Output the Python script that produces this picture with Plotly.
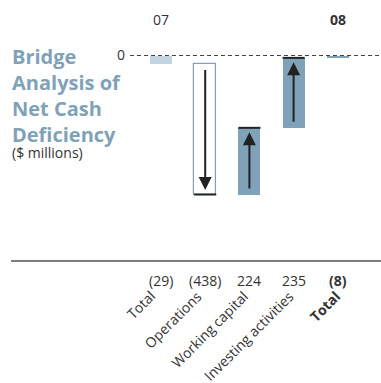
import plotly.graph_objects as go

# Bridge of net cash deficiency, $ millions
categories = ["Total", "Operations", "Working capital", "Investing activities", "Total"]
changes = [-29, -438, 224, 235]
value_labels = ["(29)", "(438)", "224", "235", "(8)"]
period_labels = ["07", "08"]

W, H = 381, 383
L, R, T, B = 130, 0, 30, 122

STEEL = "#7fa2b9"
LIGHT = "#c3d4e1"
INK = "#222222"
TEXT = "#333333"
FONT = "Open Sans"

# cumulative positions of the bridge
starts, ends = [], []
level = 0
for i, d in enumerate(changes):
    if i == 0:
        starts.append(0)
        level = d
    else:
        starts.append(level)
        level = level + d
    ends.append(level)
final_total = level
starts.append(0)
ends.append(final_total)

xs = list(range(len(categories)))
bases = [min(s, e) for s, e in zip(starts, ends)]
heights = [abs(e - s) for s, e in zip(starts, ends)]

fill_colors = [LIGHT, "white", STEEL, STEEL, STEEL]
line_colors = [LIGHT, STEEL, STEEL, STEEL, STEEL]
line_widths = [0, 1.2, 0, 0, 0]

fig = go.Figure()
fig.add_trace(go.Bar(
    x=xs, y=heights, base=bases, width=0.5,
    marker=dict(color=fill_colors, line=dict(color=line_colors, width=line_widths)),
    hoverinfo="skip", showlegend=False,
))

spacing = 44.2  # px between category centres

def px_x(p):
    return (p - L) / (W - L - R)

def px_y(p):
    return 1 - (p - T) / (H - T - B)

shapes = []
annotations = []

# zero reference line
shapes.append(dict(type="line", xref="paper", yref="y", x0=0, x1=1, y0=0, y1=0,
                   line=dict(color="#444444", width=1.2, dash="4px,3px"), layer="above"))
# baseline under the chart
shapes.append(dict(type="line", xref="paper", yref="paper", x0=px_x(11), x1=1, y0=0, y1=0,
                   line=dict(color="#555555", width=1.5)))

# caps and arrows on the change bars
inset = 15
for i in range(1, len(changes)):
    s, e = starts[i], ends[i]
    shapes.append(dict(type="line", xref="x", yref="y", x0=i - 0.25, x1=i + 0.25, y0=e, y1=e,
                       line=dict(color=INK, width=2), layer="above"))
    sign = 1 if e > s else -1
    annotations.append(dict(
        x=i, y=e - sign * inset, ax=i, ay=s + sign * inset,
        xref="x", yref="y", axref="x", ayref="y",
        text="", showarrow=True, arrowhead=2, arrowsize=1.3, arrowwidth=2, arrowcolor=INK,
        standoff=0, startstandoff=0,
    ))

# period labels above the totals
annotations.append(dict(x=0, y=px_y(20), xref="x", yref="paper", text=period_labels[0],
                        showarrow=False, yanchor="middle",
                        font=dict(family=FONT, size=14, color=TEXT)))
annotations.append(dict(x=len(categories) - 1, y=px_y(20), xref="x", yref="paper",
                        text="<b>" + period_labels[1] + "</b>", showarrow=False, yanchor="middle",
                        font=dict(family=FONT, size=14, color=TEXT)))

# value labels and rotated category labels
for i, (v, c) in enumerate(zip(value_labels, categories)):
    bold = i == len(categories) - 1
    annotations.append(dict(x=i, y=px_y(280), xref="x", yref="paper",
                            text=f"<b>{v}</b>" if bold else v, showarrow=False,
                            xanchor="center", yanchor="middle",
                            font=dict(family=FONT, size=14, color=TEXT)))
    annotations.append(dict(x=i + (1 + 2 * i) / spacing, y=px_y(284), xref="x", yref="paper",
                            text=f"<b>{c}</b>" if bold else c, showarrow=False,
                            textangle=-45, xanchor="right", yanchor="top",
                            font=dict(family=FONT, size=14, color=TEXT)))

# title block
annotations.append(dict(x=px_x(10), y=px_y(41), xref="paper", yref="paper",
                        text="<b>Bridge<br>Analysis of<br>Net Cash<br>Deficiency</b>",
                        showarrow=False, xanchor="left", yanchor="top", align="left",
                        font=dict(family=FONT, size=20, color=STEEL)))
annotations.append(dict(x=px_x(10), y=px_y(152), xref="paper", yref="paper",
                        text="($ millions)", showarrow=False, xanchor="left", yanchor="middle",
                        align="left", font=dict(family=FONT, size=14, color=TEXT)))

scale = 139 / 467  # px per $ million
y_top = (55.5 - T) / scale
y_bot = -(H - B - 55.5) / scale
x_start = -(161 - L) / spacing
x_end = x_start + (W - L - R) / spacing

fig.update_layout(
    width=W, height=H,
    margin=dict(l=L, r=R, t=T, b=B, pad=0),
    paper_bgcolor="white", plot_bgcolor="white",
    shapes=shapes, annotations=annotations,
    xaxis=dict(range=[x_start, x_end], visible=False, fixedrange=True),
    yaxis=dict(range=[y_bot, y_top], tickvals=[0], ticktext=["0"], showgrid=False,
               zeroline=False, showline=False, ticks="", ticklabelstandoff=4,
               tickfont=dict(family=FONT, size=14, color=TEXT)),
    bargap=0,
)

fig.write_html("out.html")
